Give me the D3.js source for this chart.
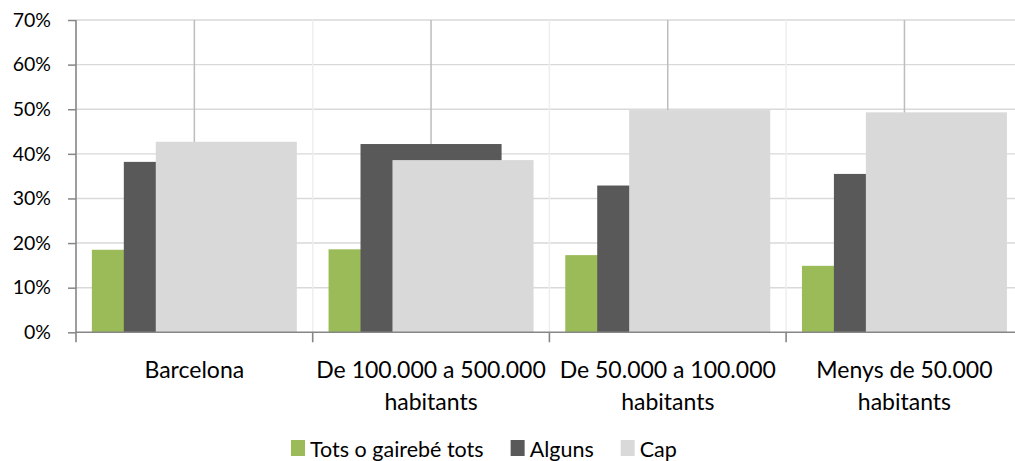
<!DOCTYPE html>
<html>
<head>
<meta charset="utf-8">
<script src="https://cdn.jsdelivr.net/npm/d3@7"></script>
<style>
  html, body { margin: 0; padding: 0; background: #fff; overflow: hidden; }
  svg { display: block; }
  text { font-family: Lato, "Open Sans", sans-serif; fill: #000; }
</style>
</head>
<body>
<svg id="chart" width="1015" height="461"></svg>
<script>
// Municipality size groups (label lines separated by \n)
const categories = [
  "Barcelona",
  "De 100.000 a 500.000\nhabitants",
  "De 50.000 a 100.000\nhabitants",
  "Menys de 50.000\nhabitants"
];
const seriesNames = ["Tots o gairebé tots", "Alguns", "Cap"];
const totsValues   = [18.5, 18.6, 17.3, 14.9];
const algunsValues = [38.2, 42.2, 32.9, 35.5];
const capValues    = [42.7, 38.6, 49.8, 49.3];
const yTicks = [0, 10, 20, 30, 40, 50, 60, 70];
const colors = ["#9bbb59", "#595959", "#d9d9d9"];

const seriesValues = [totsValues, algunsValues, capValues];

const svg = d3.select("#chart");
const plot = { left: 76, right: 1022.8, top: 20, bottom: 332.3 };

const x = d3.scaleBand().domain(categories).range([plot.left, plot.right]).padding(0);
const y = d3.scaleLinear().domain([0, 70]).range([plot.bottom, plot.top]);
const bw = x.bandwidth();
const barW = bw * 0.596;
const stepW = bw * 0.135;
const groupOffset = (bw - barW - 2 * stepW) / 2;

// horizontal gridlines
svg.append("g").selectAll("line").data(yTicks.filter(d => d > 0)).join("line")
  .attr("x1", plot.left).attr("x2", plot.right)
  .attr("y1", d => y(d)).attr("y2", d => y(d))
  .attr("stroke", "#d9d9d9").attr("stroke-width", 1.4);

// light vertical lines at category boundaries
svg.append("g").selectAll("line").data(categories.slice(1)).join("line")
  .attr("x1", d => x(d)).attr("x2", d => x(d))
  .attr("y1", plot.top).attr("y2", plot.bottom)
  .attr("stroke", "#eeeeee").attr("stroke-width", 1.5);

// darker vertical lines at category centres
svg.append("g").selectAll("line").data(categories).join("line")
  .attr("x1", d => x(d) + bw / 2).attr("x2", d => x(d) + bw / 2)
  .attr("y1", plot.top).attr("y2", plot.bottom)
  .attr("stroke", "#bdbdbd").attr("stroke-width", 1.5);

// bars: overlapping, later series drawn on top
seriesValues.forEach((vals, si) => {
  svg.append("g").selectAll("rect").data(vals).join("rect")
    .attr("x", (d, i) => x(categories[i]) + groupOffset + si * stepW)
    .attr("width", barW)
    .attr("y", d => y(d))
    .attr("height", d => y(0) - y(d))
    .attr("fill", colors[si]);
});

// y axis
const yAxis = svg.append("g").attr("transform", `translate(${plot.left},0)`)
  .call(d3.axisLeft(y).tickValues(yTicks).tickFormat(d => d + "%").tickSize(8).tickPadding(17));
yAxis.select(".domain").remove();
yAxis.selectAll(".tick line").attr("stroke", "#868686").attr("stroke-width", 1.5);
yAxis.selectAll(".tick text").attr("font-size", 19.5).attr("font-family", "Lato, sans-serif").attr("fill", "#000");
svg.append("line").attr("x1", plot.left).attr("x2", plot.left)
  .attr("y1", plot.top).attr("y2", plot.bottom + 10)
  .attr("stroke", "#868686").attr("stroke-width", 1.6);

// x axis line and boundary ticks
svg.append("line").attr("x1", plot.left).attr("x2", plot.right)
  .attr("y1", plot.bottom).attr("y2", plot.bottom)
  .attr("stroke", "#868686").attr("stroke-width", 1.6);
svg.append("g").selectAll("line").data(categories.slice(1)).join("line")
  .attr("x1", d => x(d)).attr("x2", d => x(d))
  .attr("y1", plot.bottom).attr("y2", plot.bottom + 10)
  .attr("stroke", "#868686").attr("stroke-width", 1.6);

// category labels
const catLabels = svg.append("g").selectAll("text").data(categories).join("text")
  .attr("x", d => x(d) + bw / 2)
  .attr("y", 378)
  .attr("text-anchor", "middle")
  .attr("font-size", 23);
catLabels.selectAll("tspan").data(d => d.split("\n")).join("tspan")
  .attr("x", function () { return d3.select(this.parentNode).attr("x"); })
  .attr("dy", (d, i) => i === 0 ? 0 : 32)
  .text(d => d);

// legend
const legend = svg.append("g");
let lx = 291;
seriesNames.forEach((name, i) => {
  legend.append("rect").attr("x", lx).attr("y", 440).attr("width", 14).attr("height", 16).attr("fill", colors[i]);
  const t = legend.append("text").attr("x", lx + 19).attr("y", 456.5).attr("font-size", 21.5).text(name);
  lx += 19 + t.node().getComputedTextLength() + 27;
});
</script>
</body>
</html>
